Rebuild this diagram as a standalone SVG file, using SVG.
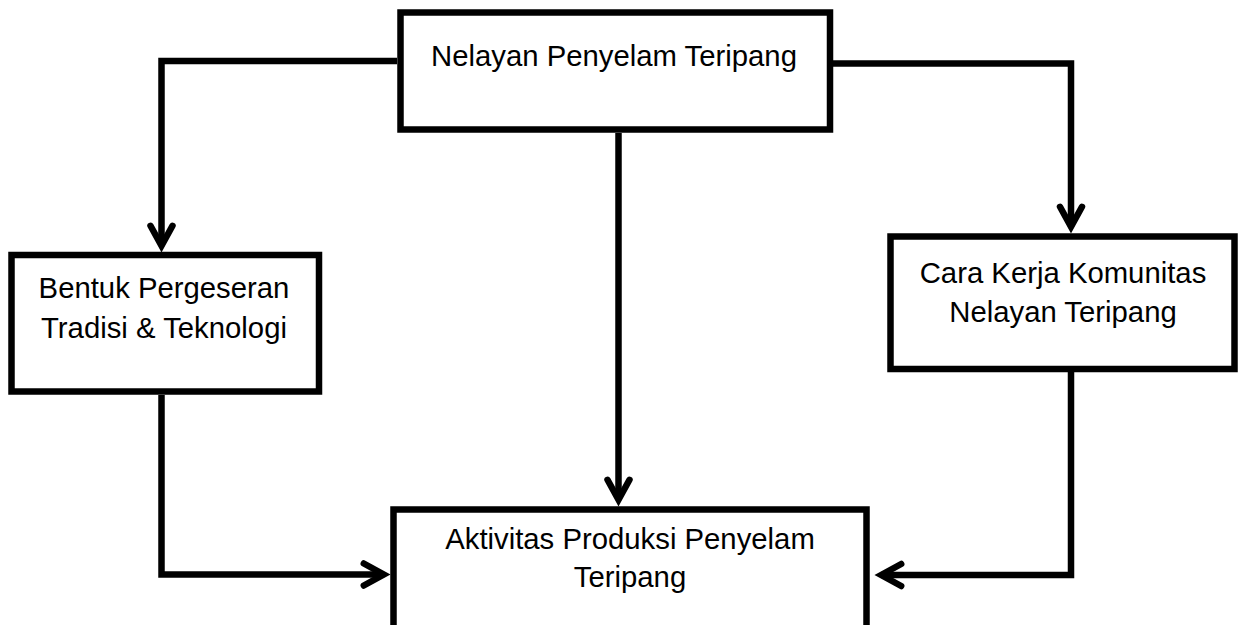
<svg xmlns="http://www.w3.org/2000/svg" width="1238" height="625" viewBox="0 0 1238 625">
  <style>
    .box { fill: #ffffff; stroke: #000000; stroke-width: 6.5; }
    .conn { fill: none; stroke: #000000; stroke-width: 6.5; stroke-linejoin: miter; stroke-linecap: butt; marker-end: url(#arr); }
    .lbl { font-family: "Liberation Sans", Arial, sans-serif; font-size: 29.3px; fill: #000000; text-anchor: middle; }
  </style>
  <defs>
    <marker id="arr" markerUnits="userSpaceOnUse" orient="auto" overflow="visible" markerWidth="1" markerHeight="1" refX="0" refY="0">
      <path d="M -20 -11 L 0 0 L -20 11" fill="none" stroke="#000000" stroke-width="6.5" stroke-linecap="round" stroke-linejoin="miter"/>
    </marker>
  </defs>
  <rect width="1238" height="625" fill="#ffffff"/>
  <g id="connectors">
    <path class="conn" d="M 397 61 H 161.5 V 245.8"/>
    <path class="conn" d="M 833 63.5 H 1071 V 226.8"/>
    <path class="conn" d="M 618.5 133 V 499.8"/>
    <path class="conn" d="M 161.5 395 V 574.5 H 383.8"/>
    <path class="conn" d="M 1071 372 V 575 H 881.2"/>
  </g>
  <g id="node-nelayan">
    <rect class="box" x="400.5" y="12.5" width="429.5" height="117"/>
    <text class="lbl" x="614" y="65.5">Nelayan Penyelam Teripang</text>
  </g>
  <g id="node-bentuk">
    <rect class="box" x="11.5" y="255" width="307.5" height="136.5"/>
    <text class="lbl" x="164" y="298.3">Bentuk Pergeseran</text>
    <text class="lbl" x="164" y="337.7">Tradisi &amp; Teknologi</text>
  </g>
  <g id="node-cara">
    <rect class="box" x="890.5" y="236.5" width="344" height="132.5"/>
    <text class="lbl" x="1063" y="283.3">Cara Kerja Komunitas</text>
    <text class="lbl" x="1063" y="321.7">Nelayan Teripang</text>
  </g>
  <g id="node-aktivitas">
    <rect class="box" x="393.5" y="509.5" width="473" height="140"/>
    <text class="lbl" x="630" y="549.3">Aktivitas Produksi Penyelam</text>
    <text class="lbl" x="630" y="587.3">Teripang</text>
  </g>
</svg>
